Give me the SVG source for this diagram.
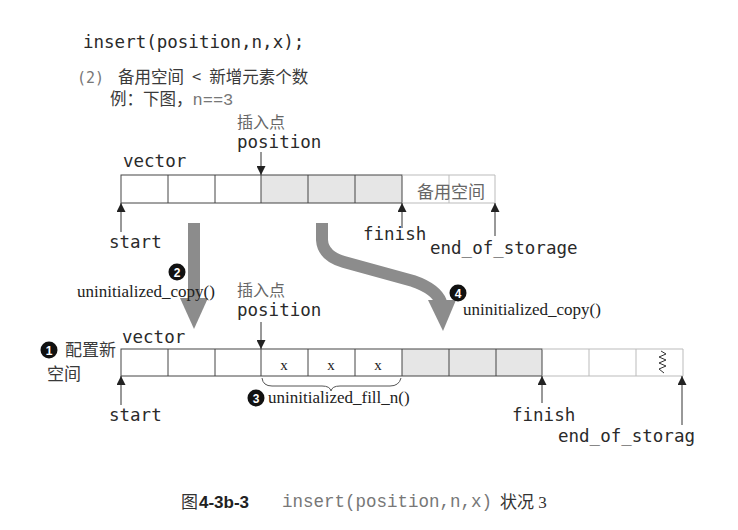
<svg xmlns="http://www.w3.org/2000/svg" width="738" height="530" viewBox="0 0 738 530">
<style>
.mono{font-family:"DejaVu Sans Mono","Liberation Mono",monospace;font-size:17.5px;fill:#2a2a2a}
.cjk{font-family:"Noto Sans CJK SC","Noto Sans",sans-serif;font-size:17px;fill:#3a3a3a}
.cjkl{font-family:"Noto Sans CJK SC","Noto Sans",sans-serif;font-size:17px;fill:#666}
.ser{font-family:"Liberation Serif","Noto Sans CJK SC",serif;font-size:17px;fill:#222}
.cell{fill:none;stroke:#444;stroke-width:1}
.spare{fill:none;stroke:#bbb;stroke-width:1}
.shade{fill:#e6e6e6}
.ptr{stroke:#333;stroke-width:1;fill:none}
.big{fill:#8c8c8c}
.bul{fill:#111}
.bult{font-family:"Liberation Sans",Arial,sans-serif;font-weight:bold;font-size:12px;fill:#fff;text-anchor:middle}
</style>
<defs>
<marker id="ah" viewBox="0 0 10 10" refX="10" refY="5" markerWidth="9" markerHeight="9" markerUnits="userSpaceOnUse" orient="auto">
<path d="M0,0 L10,5 L0,10 z" fill="#222"/>
</marker>
<clipPath id="clipR"><rect x="0" y="0" width="694" height="530"/></clipPath>
</defs>
<rect width="738" height="530" fill="#fff"/>

<g id="header">
<text class="mono" x="83" y="48">insert(position,n,x);</text>
<text x="77" y="83" style="font-family:'DejaVu Sans Mono',monospace;font-size:15px;fill:#777">(2)</text>
<text class="cjk" x="118" y="83" style="font-size:16.5px">备用空间<tspan dx="8">&lt;</tspan><tspan dx="8">新增元素个数</tspan></text>
<text class="cjk" x="110" y="105" style="font-size:16.5px">例：下图，<tspan style="font-family:'Liberation Mono',monospace;font-size:17px;fill:#777">n==3</tspan></text>
</g>

<g id="top-vector">
<rect class="shade" x="261" y="175" width="141" height="28"/>
<rect class="cell" x="121" y="175" width="281" height="28"/>
<line class="cell" x1="168" y1="175" x2="168" y2="203"/>
<line class="cell" x1="215" y1="175" x2="215" y2="203"/>
<line class="cell" x1="261" y1="175" x2="261" y2="203"/>
<line class="cell" x1="308" y1="175" x2="308" y2="203"/>
<line class="cell" x1="355" y1="175" x2="355" y2="203"/>
<path class="spare" d="M402,175 H495 V203 H402 M449,175 V203"/>
<text class="cjkl" x="417" y="198">备用空间</text>
<text class="mono" x="123" y="167">vector</text>
</g>

<g id="top-position">
<text class="cjkl" x="237" y="128" style="font-size:16px">插入点</text>
<text class="mono" x="237" y="148">position</text>
</g>
<g id="top-start"><text class="mono" x="109" y="248">start</text></g>
<g id="top-finish"><text class="mono" x="363" y="240">finish</text></g>
<g id="top-end"><text class="mono" x="430" y="254">end_of_storage</text></g>

<g id="bottom-vector">
<rect class="shade" x="402" y="349" width="140" height="27"/>
<rect class="cell" x="121" y="349" width="421" height="27"/>
<line class="cell" x1="168" y1="349" x2="168" y2="376"/>
<line class="cell" x1="215" y1="349" x2="215" y2="376"/>
<line class="cell" x1="261" y1="349" x2="261" y2="376"/>
<line class="cell" x1="308" y1="349" x2="308" y2="376"/>
<line class="cell" x1="355" y1="349" x2="355" y2="376"/>
<line class="cell" x1="402" y1="349" x2="402" y2="376"/>
<line class="cell" x1="449" y1="349" x2="449" y2="376"/>
<line class="cell" x1="496" y1="349" x2="496" y2="376"/>
<path class="spare" d="M542,349 H683 V376 H542 M589,349 V376 M636,349 V376"/>
<path d="M661,351 L666,354 L659,357 L666,360 L659,363 L666,366 L659,369 L664,373" fill="none" stroke="#333" stroke-width="1"/>
<text class="ser" x="284" y="370" text-anchor="middle" style="font-size:15px">x</text>
<text class="ser" x="331" y="370" text-anchor="middle" style="font-size:15px">x</text>
<text class="ser" x="378" y="370" text-anchor="middle" style="font-size:15px">x</text>
<text class="mono" x="122" y="343">vector</text>
</g>

<g id="step1">
<circle class="bul" cx="49" cy="350" r="8.5"/>
<text class="bult" x="49" y="354.5">1</text>
<text class="cjk" x="65" y="356">配置新</text>
<text class="cjk" x="47" y="380">空间</text>
</g>

<g id="bottom-position">
<text class="cjkl" x="237" y="296" style="font-size:16px">插入点</text>
<text class="mono" x="237" y="316">position</text>
</g>
<g id="bottom-start"><text class="mono" x="109" y="421">start</text></g>
<g id="bottom-finish"><text class="mono" x="512" y="421">finish</text></g>
<g id="bottom-end"><text class="mono" x="558" y="442" clip-path="url(#clipR)">end_of_storage</text></g>

<g id="step2">
<rect class="big" x="188" y="223" width="12" height="76"/>
<path class="big" d="M180,298 L208,298 L194,329 z"/>
<text class="ser" x="77" y="297">uninitialized_copy()</text>
<circle class="bul" cx="177" cy="272" r="8.5"/>
<text class="bult" x="177" y="276.5">2</text>
</g>

<g id="step3">
<path d="M262,378 Q263,386 272,386 L322,386 Q330,386 331,391 Q332,386 340,386 L390,386 Q399,386 401,378" fill="none" stroke="#555" stroke-width="1"/>
<circle class="bul" cx="256" cy="398" r="8.5"/>
<text class="bult" x="256" y="402.5">3</text>
<text class="ser" x="268" y="403">uninitialized_fill_n()</text>
</g>

<g id="step4">
<path d="M322,223 L322,240 Q323,256 344,262 L413,281 Q436,289 441,302" fill="none" stroke="#8c8c8c" stroke-width="12"/>
<path class="big" d="M428,300 L456,300 L443,331 z"/>
<circle class="bul" cx="458" cy="293" r="8.5"/>
<text class="bult" x="458" y="297.5">4</text>
<text class="ser" x="463" y="315">uninitialized_copy()</text>
</g>

<g id="connectors">
<line class="ptr" x1="261" y1="152" x2="261" y2="175" marker-end="url(#ah)"/>
<line class="ptr" x1="121" y1="232" x2="121" y2="203" marker-end="url(#ah)"/>
<line class="ptr" x1="402" y1="228" x2="402" y2="203" marker-end="url(#ah)"/>
<line class="ptr" x1="495" y1="236" x2="495" y2="203" marker-end="url(#ah)"/>
<line class="ptr" x1="261" y1="322" x2="261" y2="349" marker-end="url(#ah)"/>
<line class="ptr" x1="121" y1="405" x2="121" y2="376" marker-end="url(#ah)"/>
<line class="ptr" x1="542" y1="403" x2="542" y2="376" marker-end="url(#ah)"/>
<line class="ptr" x1="682" y1="425" x2="682" y2="376" marker-end="url(#ah)"/>
</g>

<g id="caption">
<text x="181" y="508" style="font-family:'Liberation Serif','Noto Sans CJK SC',serif;font-size:17px;fill:#333">图</text>
<text x="199" y="508" style="font-family:'Liberation Sans',Arial,sans-serif;font-weight:bold;font-size:17px;fill:#222">4-3b-3</text>
<text x="282" y="507" style="font-family:'Liberation Mono',monospace;font-size:17.5px;fill:#777">insert(position,n,x)</text>
<text x="500" y="508" style="font-family:'Liberation Serif','Noto Sans CJK SC',serif;font-size:17px;fill:#333">状况 3</text>
</g>
</svg>
